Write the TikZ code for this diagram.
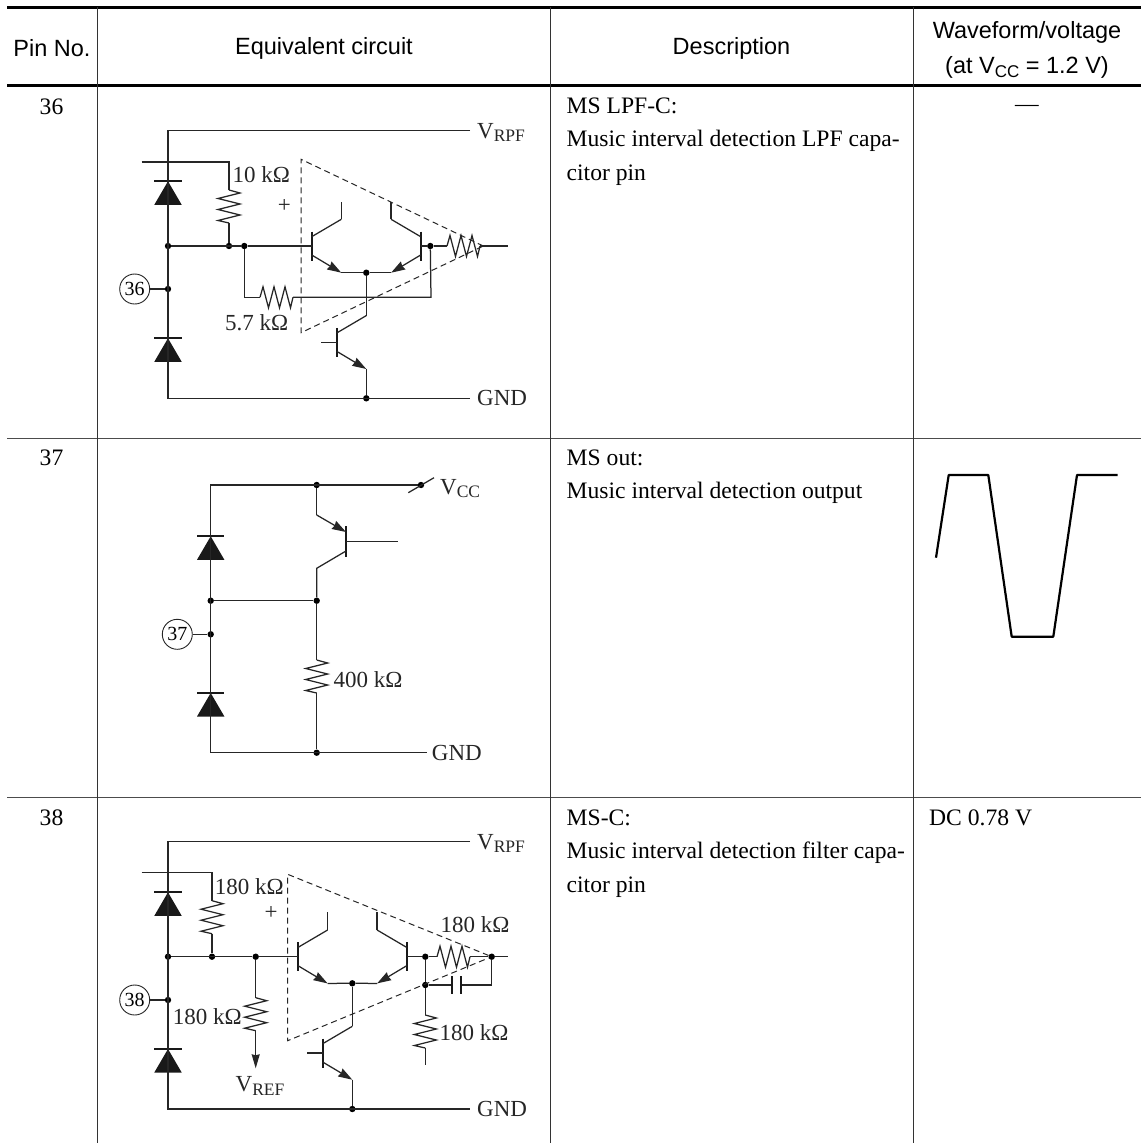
\documentclass[tikz,border=0pt]{standalone}
\usepackage{fontspec}
\usepackage{tikz}
\usetikzlibrary{arrows.meta}
\setmainfont{Liberation Serif}
\newfontfamily\headfont{Liberation Sans}
\newcommand{\lowtxt}[1]{\raisebox{-0.3ex}{\fontsize{17.5}{17.5}\selectfont #1}}
\newcommand{\lowhead}[1]{\raisebox{-0.35ex}{\fontsize{17}{17}\selectfont #1}}
\tikzset{
  wire/.style={line width=1.25pt,color=black!85},
  junc/.style={circle,fill=black,inner sep=0,minimum size=6.4pt},
  pinno/.style={circle,draw=black!85,line width=0.9pt,inner sep=0,minimum size=30pt,font=\fontsize{20}{20}\selectfont},
  lab/.style={inner sep=0,font=\fontsize{23}{23}\selectfont,text=black!85},
  rail/.style={lab,anchor=base west,inner xsep=7pt},
  headtxt/.style={inner sep=0,align=center,font=\headfont\fontsize{23.5}{35}\selectfont},
  celltxt/.style={inner sep=0,anchor=north west,align=left,font=\fontsize{23.6}{33.3}\selectfont},
  dashline/.style={line width=1pt,dash pattern=on 6pt off 4pt,color=black!85},
  diodeq/.pic={
    \fill[black!90] (0,0) -- (-13.7,23.5) -- (13.7,23.5) -- cycle;
    \draw[line width=2pt,black!90] (-13.7,0) -- (13.7,0);
  },
  npnq/.pic={
    \coordinate (-c) at (29.6,-26.7);
    \coordinate (-e) at (29.6,26.7);
    \draw[line width=2.2pt,black!90] (0,-14.5) -- (0,14.5);
    \draw[wire] (0,-9.3) -- (-c);
    \draw[wire,-{Stealth[length=14pt,width=9pt,inset=1pt]}] (0,9) -- (-e);
  },
  resv/.pic={
    \draw[wire] (0,0) -- (11,3) -- (-11,8.5) -- (11,14) -- (-11,19.5) -- (11,25) -- (-11,30.5) -- (0,33);
  },
  resh/.pic={
    \draw[wire] (0,0) -- (3,-10.5) -- (8.5,10.5) -- (14,-10.5) -- (19.5,10.5) -- (25,-10.5) -- (30.5,10.5) -- (33,0);
  }
}

\begin{document}
\begin{tikzpicture}[x=1pt,y=-1pt]
\path[fill=white,use as bounding box] (0,0) rectangle (1141,1146);

% table
\draw[line width=3pt] (7,7) -- (1141,7);
\draw[line width=3pt] (7,85) -- (1141,85);
\draw[line width=0.8pt,black!70] (7,438) -- (1141,438);
\draw[line width=0.8pt,black!70] (7,797.5) -- (1141,797.5);
\draw[line width=0.8pt,black!80] (97,7) -- (97,1143);
\draw[line width=0.8pt,black!80] (550.5,7) -- (550.5,1143);
\draw[line width=0.8pt,black!80] (913,7) -- (913,1143);

\node[headtxt] (hpin) at (52,48) {Pin No.};
\node[headtxt] (hcirc) at (324,48) {Equivalent circuit};
\node[headtxt] (hdesc) at (731.5,48) {Description};
\node[headtxt] (hwave) at (1027,50) {Waveform/voltage\\(at V\lowhead{CC} = 1.2 V)};

\node[celltxt,anchor=center] (nga) at (51.5,106.5) {36};
\node[celltxt,anchor=center] (ngb) at (51.5,458) {37};
\node[celltxt,anchor=center] (ngc) at (51.5,818) {38};
\node[celltxt] (da) at (566.5,97.8) {MS LPF-C:\\Music interval detection LPF capa-\\citor pin};
\node[celltxt] (db) at (566.5,449.8) {MS out:\\Music interval detection output};
\node[celltxt] (dc) at (566.5,809.8) {MS-C:\\Music interval detection filter capa-\\citor pin};
\node[celltxt,anchor=center] (wa) at (1027,108) {---};
\node[celltxt] (wc) at (929,809.8) {DC 0.78 V};
\coordinate (w1) at (936,557.7);
\coordinate (w2) at (948.7,475);
\coordinate (w3) at (988.3,475);
\coordinate (w4) at (1011.7,636.7);
\coordinate (w5) at (1053.3,636.7);
\coordinate (w6) at (1077,475);
\coordinate (w7) at (1117.7,475);
\draw[line width=2.2pt,line join=round] (w1) -- (w2) -- (w3) -- (w4) -- (w5) -- (w6) -- (w7);

% pin 36
\coordinate (atl) at (168,130.7);
\coordinate (abl) at (168,398.3);
\node[rail] (avr) at (470,138) {V\lowtxt{RPF}};
\node[lab,anchor=west,inner xsep=7pt] (agnd) at (470,398.3) {GND};
\node[junc] (a1) at (168,246) {};
\node[junc] (a2) at (168,289) {};
\node[junc] (a3) at (229,246) {};
\node[junc] (a4) at (244.3,246) {};
\node[junc] (a5) at (366.3,272.7) {};
\node[junc] (a6) at (430.3,246) {};
\node[junc] (a7) at (366.3,398.3) {};
\node[pinno] (apin) at (134.7,289) {36};
\pic at (168,181.3) {diodeq};
\pic at (168,338.3) {diodeq};
\pic (qa) at (311.7,246) {npnq};
\pic[xscale=-1] (qb) at (420.7,246) {npnq};
\pic (qc) at (336.7,342.3) {npnq};
\pic at (229,190) {resv};
\pic at (260,297.3) {resh};
\pic at (447,246) {resh};
\node[lab] (ar1) at (261.3,175) {10 kΩ};
\node[lab] (ar2) at (256.7,322.7) {5.7 kΩ};
\node[lab] (aplus) at (284.3,205.5) {+};
\coordinate (at1) at (301,159.3);
\coordinate (at2) at (301,332.7);
\coordinate (at3) at (483.3,246);
\draw[dashline] (at3) -- (at1) -- (at2) -- (at3);
\coordinate (aout) at (508.3,246);
\coordinate (ain) at (141.7,162);
\draw[wire] (atl -| avr.west) -- (atl) -- (abl) -- (abl -| agnd.west);
\draw[wire] (ain) -- (229,162) -- (229,190);
\draw[wire] (229,223) -- (a3);
\draw[wire] (a1) -- (a4) -- (311.7,246);
\draw[wire] (apin) -- (a2);
\draw[wire] (a4) -- (244.3,297.3) -- (260,297.3);
\draw[wire] (293,297.3) -- (431,297.3) -- (a6);
\draw[wire] (420.7,246) -- (a6) -- (447,246);
\draw[wire] (480,246) -- (aout);
\draw[wire] (qa-c) -- ++(0,-17.7);
\draw[wire] (qb-c) -- ++(0,-17.7);
\draw[wire] (qa-e) -- (a5) -- (qb-e);
\draw[wire] (a5) -- (qc-c);
\draw[wire] (qc-e) -- (a7);
\draw[wire] (321,342.3) -- (336.7,342.3);

% pin 37
\coordinate (btl) at (210.7,485);
\coordinate (bbl) at (210.7,752.7);
\node[rail] (bvc) at (433,494) {V\lowtxt{CC}};
\node[lab,anchor=west,inner xsep=5pt] (bgnd) at (426.7,752.7) {GND};
\node[junc] (b1) at (316.7,485) {};
\node[junc] (b2) at (421,485) {};
\node[junc] (b3) at (210.7,600.7) {};
\node[junc] (b4) at (316.7,600.7) {};
\node[junc] (b5) at (210.7,634.3) {};
\node[junc] (b6) at (316.7,752.7) {};
\node[pinno] (bpin) at (177.3,634.3) {37};
\pic at (210.7,536.3) {diodeq};
\pic at (210.7,693) {diodeq};
\pic at (316.7,660) {resv};
\node[lab,anchor=west] (br) at (333.3,680) {400 kΩ};
\coordinate (be) at (316.7,515);
\coordinate (bc) at (316.7,568.3);
\coordinate (bbar) at (346.3,541.5);
\draw[line width=2.2pt,black!90] (346.3,526) -- (346.3,556.7);
\draw[wire,-{Stealth[length=14pt,width=9pt,inset=1pt]}] (be) -- (346,532);
\draw[wire] (346,551) -- (bc) -- (b4);
\draw[wire] (b1) -- (be);
\draw[wire] (bbar) -- (397.7,541.5);
\draw[wire] (b3) -- (b4);
\draw[wire] (b4) -- (316.7,660);
\draw[wire] (316.7,693) -- (b6);
\draw[wire] (bpin) -- (b5);
\draw[wire] (b2) -- (btl) -- (bbl) -- (bbl -| bgnd.west);
\draw[wire] (408.3,492.7) -- (434,477.7);

% pin 38
\coordinate (ctl) at (168,841.7);
\coordinate (cbl) at (168,1109);
\node[rail] (cvr) at (470,849) {V\lowtxt{RPF}};
\node[lab,anchor=west,inner xsep=7pt] (cgnd) at (470,1109) {GND};
\node[junc] (c1) at (168,956.7) {};
\node[junc] (c2) at (168,1000) {};
\node[junc] (c3) at (212,956.7) {};
\node[junc] (c4) at (255.7,956.7) {};
\node[junc] (c5) at (352.3,983.3) {};
\node[junc] (c6) at (425.3,956.7) {};
\node[junc] (c7) at (425.3,985) {};
\node[junc] (c8) at (491.7,956.7) {};
\node[junc] (c9) at (352.3,1109) {};
\node[pinno] (cpin) at (134.7,1000) {38};
\pic at (168,892.3) {diodeq};
\pic at (168,1049) {diodeq};
\pic (qd) at (298,956.7) {npnq};
\pic[xscale=-1] (qe) at (406.7,956.7) {npnq};
\pic (qf) at (322.7,1053) {npnq};
\pic at (212,900.7) {resv};
\pic at (255.7,997.7) {resv};
\pic at (425.3,1015) {resv};
\pic at (437,956.7) {resh};
\node[lab] (cr1) at (249.3,886.7) {180 kΩ};
\node[lab] (cr2) at (207.3,1016.7) {180 kΩ};
\node[lab] (cr3) at (475,925) {180 kΩ};
\node[lab] (cr4) at (474,1032.7) {180 kΩ};
\node[lab] (cplus) at (271,912.5) {+};
\node[lab] (cvref) at (260,1086) {V\lowtxt{REF}};
\coordinate (ct1) at (287.7,874.3);
\coordinate (ct2) at (287.7,1040.7);
\draw[dashline] (c8) -- (ct1) -- (ct2) -- (c8);
\coordinate (cin) at (141.7,872.7);
\coordinate (cout) at (508.3,956.7);
\draw[wire] (ctl -| cvr.west) -- (ctl) -- (cbl) -- (cbl -| cgnd.west);
\draw[wire] (cin) -- (212,872.7) -- (212,900.7);
\draw[wire] (212,933.7) -- (c3);
\draw[wire] (c1) -- (c4) -- (298,956.7);
\draw[wire] (cpin) -- (c2);
\draw[wire] (c4) -- (255.7,997.7);
\draw[wire,-{Stealth[length=14pt,width=8pt,inset=1pt]}] (255.7,1030.7) -- (255.7,1068.3);
\draw[wire] (qd-c) -- ++(0,-17.7);
\draw[wire] (qe-c) -- ++(0,-17.7);
\draw[wire] (qd-e) -- (c5) -- (qe-e);
\draw[wire] (c5) -- (qf-c);
\draw[wire] (qf-e) -- (c9);
\draw[wire] (307.3,1053) -- (322.7,1053);
\draw[wire] (406.7,956.7) -- (c6) -- (437,956.7);
\draw[wire] (470,956.7) -- (c8) -- (cout);
\draw[wire] (c6) -- (c7) -- (425.3,1015);
\draw[wire] (425.3,1048) -- (425.3,1065);
\draw[wire] (c7) -- (452.3,985);
\draw[wire] (461,985) -- (491.7,985) -- (c8);
\draw[line width=2pt,black!90] (452.3,976) -- (452.3,994.3);
\draw[line width=2pt,black!90] (461,976) -- (461,994.3);
\end{tikzpicture}
\end{document}
